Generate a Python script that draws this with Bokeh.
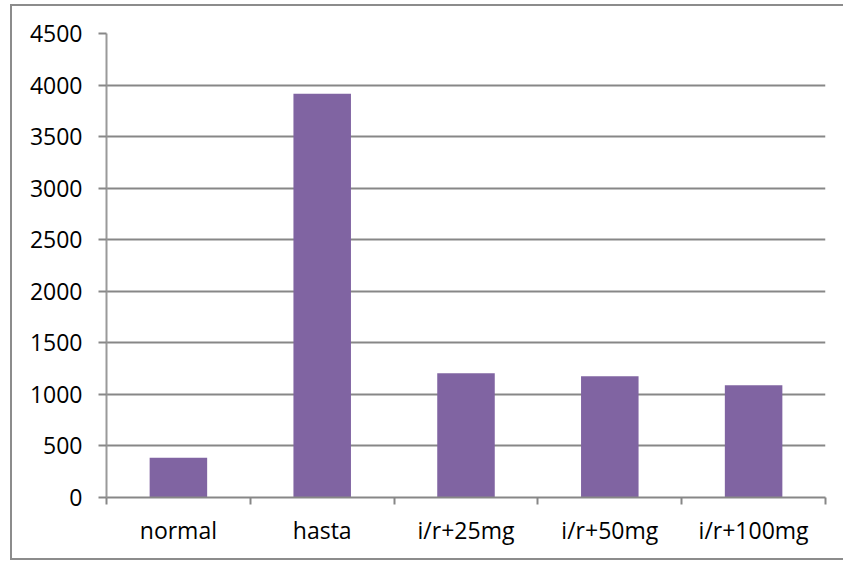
from bokeh.plotting import figure
from bokeh.models import FixedTicker, Range1d, ColumnDataSource
from bokeh.embed import file_html
from bokeh.resources import INLINE

# Group names and measured values
categories = ["normal", "hasta", "i/r+25mg", "i/r+50mg", "i/r+100mg"]
values = [385, 3915, 1205, 1175, 1088]
y_ticks = [0, 500, 1000, 1500, 2000, 2500, 3000, 3500, 4000, 4500]

centers = [i + 0.5 for i in range(len(categories))]
source = ColumnDataSource(data=dict(x=centers, top=values, name=categories))

FONT = "Open Sans"
GRAY = "#878787"

p = figure(
    width=833, height=556,
    x_range=Range1d(0, len(categories)),
    y_range=Range1d(0, 4500),
    output_backend="svg", toolbar_location=None,
    min_border_left=94, min_border_top=27, min_border_right=20, min_border_bottom=65,
)
p.styles = {
    "margin-left": "10px",
    "margin-top": "4px",
    "border-left": "2px solid #8c8c8c",
    "border-top": "2px solid #8c8c8c",
    "border-bottom": "2px solid #8c8c8c",
}
p.outline_line_color = None
p.background_fill_color = "white"
p.border_fill_color = "white"

p.vbar(x="x", top="top", width=0.4, source=source,
       fill_color="#8064A2", line_color=None)

# Category axis: labels at bar centers, tick marks at category boundaries
xa = p.xaxis[0]
xa.ticker = FixedTicker(ticks=centers, minor_ticks=list(range(len(categories) + 1)))
xa.major_label_overrides = {c: n for c, n in zip(centers, categories)}
xa.major_tick_out = 0
xa.major_tick_in = 0
xa.minor_tick_out = 7
xa.minor_tick_in = 0
xa.minor_tick_line_color = GRAY
xa.minor_tick_line_width = 2
xa.axis_line_color = GRAY
xa.axis_line_width = 2
xa.major_label_text_font = FONT
xa.major_label_text_font_size = "23px"
xa.major_label_text_color = "black"
xa.major_label_standoff = 9

ya = p.yaxis[0]
ya.ticker = FixedTicker(ticks=y_ticks)
ya.major_tick_out = 8
ya.major_tick_in = 0
ya.minor_tick_out = 0
ya.minor_tick_in = 0
ya.major_tick_line_color = GRAY
ya.major_tick_line_width = 2
ya.axis_line_color = "#9a9a9a"
ya.axis_line_width = 2
ya.major_label_text_font = FONT
ya.major_label_text_font_size = "23px"
ya.major_label_text_color = "black"
ya.major_label_standoff = 16

p.xgrid.grid_line_color = None
p.ygrid.grid_line_color = GRAY
p.ygrid.grid_line_width = 2

open("out.html", "w").write(file_html(p, INLINE))
